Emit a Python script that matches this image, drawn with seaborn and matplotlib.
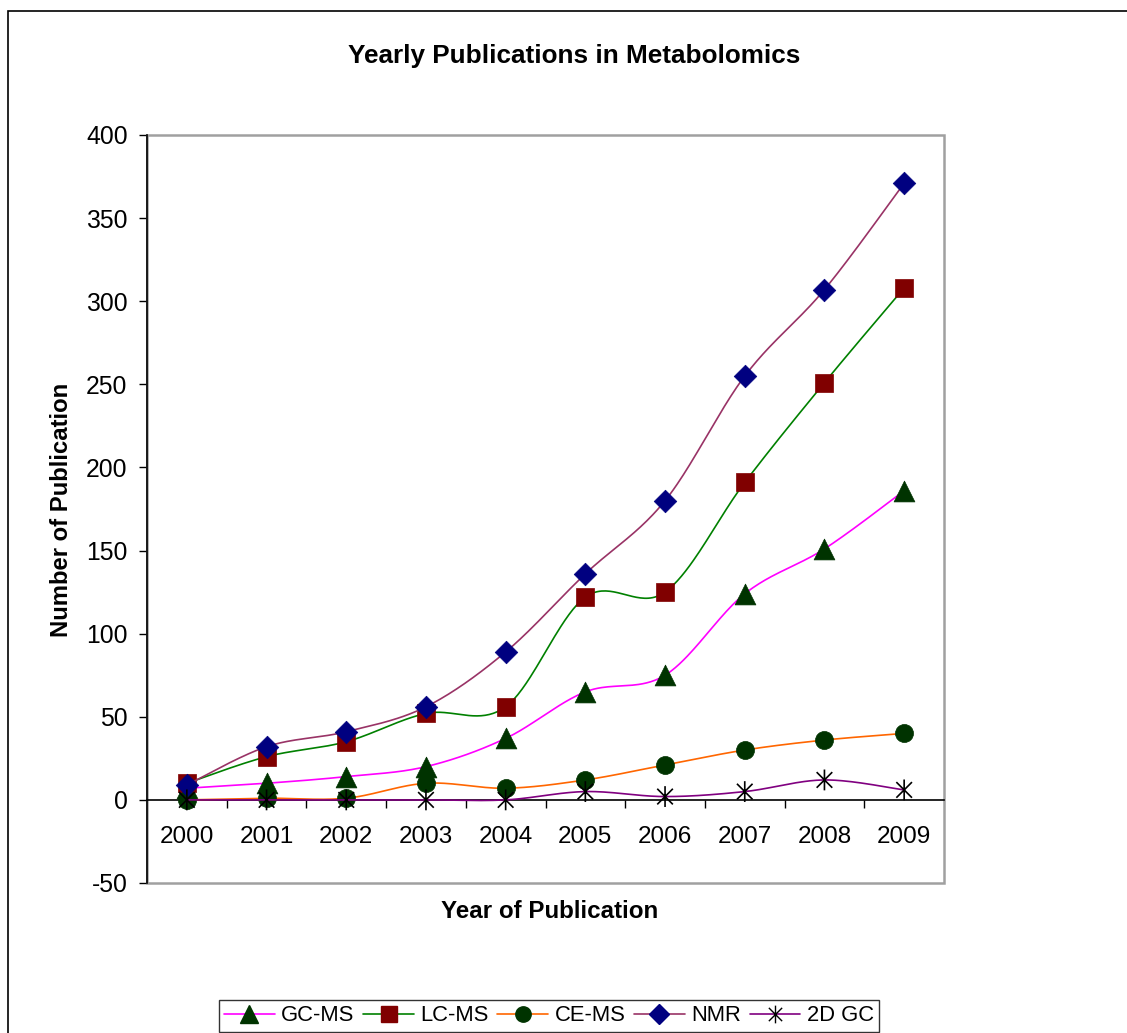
import numpy as np
import pandas as pd
import matplotlib
matplotlib.use("Agg")
import matplotlib.pyplot as plt
from matplotlib.lines import Line2D
from matplotlib.patches import Rectangle
from matplotlib.path import Path
import seaborn as sns

# Yearly publication counts per analytical platform
years = ["2000", "2001", "2002", "2003", "2004", "2005", "2006", "2007", "2008", "2009"]
gc_ms = [7, 10, 14, 20, 37, 65, 75, 124, 151, 186]
lc_ms = [10, 26, 35, 52, 56, 122, 125, 191, 251, 308]
ce_ms = [0, 1, 1, 10, 7, 12, 21, 30, 36, 40]
nmr = [9, 32, 41, 56, 89, 136, 180, 255, 307, 371]
gc2d = [0, 0, 0, 0, 0, 5, 2, 5, 12, 6]

series_names = ["GC-MS", "LC-MS", "CE-MS", "NMR", "2D GC"]
series_values = [gc_ms, lc_ms, ce_ms, nmr, gc2d]

# asterisk marker: vertical stroke plus a diagonal cross
star_path = Path(
    [(0, -1), (0, 1), (-0.75, -0.75), (0.75, 0.75), (-0.75, 0.75), (0.75, -0.75)],
    [Path.MOVETO, Path.LINETO, Path.MOVETO, Path.LINETO, Path.MOVETO, Path.LINETO],
)

styles = {
    "GC-MS": dict(line="#FF00FF", marker="^", mcolor="#003300", ms=15),
    "LC-MS": dict(line="#008000", marker="s", mcolor="#800000", ms=13),
    "CE-MS": dict(line="#FF6600", marker="o", mcolor="#003300", ms=13),
    "NMR": dict(line="#993366", marker="D", mcolor="#000080", ms=11.5),
    "2D GC": dict(line="#800080", marker=star_path, mcolor="#000000", ms=15),
}

rows = []
for name, vals in zip(series_names, series_values):
    for i, (yr, v) in enumerate(zip(years, vals)):
        rows.append({"series": name, "year": yr, "pos": i, "count": v})
df = pd.DataFrame(rows)


def smooth_curve(x, y, n=40):
    """Cubic Bezier smoothing through every point (Catmull-Rom style)."""
    pts = np.column_stack([x, y]).astype(float)
    padded = np.vstack([pts[0], pts, pts[-1]])
    out = []
    t = np.linspace(0, 1, n)[:, None]
    for i in range(len(pts) - 1):
        p0, p1, p2, p3 = padded[i], padded[i + 1], padded[i + 2], padded[i + 3]
        c1 = p1 + (p2 - p0) / 6.0
        c2 = p2 - (p3 - p1) / 6.0
        seg = ((1 - t) ** 3) * p1 + 3 * ((1 - t) ** 2) * t * c1 + 3 * (1 - t) * t ** 2 * c2 + t ** 3 * p2
        out.append(seg if i == 0 else seg[1:])
    out = np.vstack(out)
    return out[:, 0], out[:, 1]


sns.set_theme(style="white")
plt.rcParams["font.family"] = ["Liberation Sans", "DejaVu Sans"]
plt.rcParams["axes.unicode_minus"] = False
plt.rcParams["text.color"] = "black"
plt.rcParams["axes.labelcolor"] = "black"

W, H = 1127, 1033
fig = plt.figure(figsize=(W / 100, H / 100), dpi=100)
fig.patch.set_facecolor("white")
ax = fig.add_axes([147 / W, 1 - 883 / H, (944 - 147) / W, (883 - 135) / H])

handles = []
for k, name in enumerate(series_names):
    st = styles[name]
    sub = df[df["series"] == name]
    sx, sy = smooth_curve(sub["pos"].values, sub["count"].values)
    ax.plot(sx, sy, color=st["line"], lw=1.2, zorder=3 + 2 * k, solid_capstyle="round")
    if name == "2D GC":
        sns.scatterplot(data=sub, x="pos", y="count", ax=ax, marker=star_path,
                        s=st["ms"] ** 2, color="none", edgecolor=st["mcolor"],
                        linewidth=1.2, zorder=4 + 2 * k, legend=False)
    else:
        sns.scatterplot(data=sub, x="pos", y="count", ax=ax, marker=st["marker"],
                        s=st["ms"] ** 2, color=st["mcolor"], edgecolor=st["mcolor"],
                        linewidth=0.5, zorder=4 + 2 * k, legend=False)
    handles.append(Line2D([0], [0], color=st["line"], lw=1.2, marker=st["marker"],
                          markersize=st["ms"] * 0.85, markerfacecolor=st["mcolor"],
                          markeredgecolor=st["mcolor"], markeredgewidth=1.0))

ax.set_xlim(-0.5, len(years) - 0.5)
ax.set_ylim(-50, 400)
ax.set_yticks(np.arange(-50, 401, 50))
ax.set_xticks(range(len(years)))
ax.set_xticklabels(years)
ax.set_xticks(np.arange(0.5, len(years) - 0.5, 1), minor=True)
ax.tick_params(axis="x", which="major", length=0, pad=19, labelsize=17.5, colors="black")
ax.tick_params(axis="x", which="minor", length=6, width=1.0, direction="out",
               color="black", bottom=True)
ax.tick_params(axis="y", which="major", length=6, width=1.0, direction="out",
               pad=8, labelsize=17.8, colors="black", left=True)

for side in ["top", "right"]:
    ax.spines[side].set_visible(False)
ax.spines["bottom"].set_position(("data", 0))
ax.spines["bottom"].set_color("black")
ax.spines["bottom"].set_linewidth(1.2)
ax.spines["bottom"].set_zorder(2.5)
ax.spines["left"].set_color("black")
ax.spines["left"].set_linewidth(1.2)

# plot area frame
ax.add_patch(Rectangle((0, 0), 1, 1, transform=ax.transAxes, fill=False,
                       edgecolor="#A0A0A0", lw=1.8, zorder=1, clip_on=False))

ax.set_xlabel("")
ax.set_ylabel("")
fig.text(550 / W, 1 - 911 / H, "Year of Publication", ha="center", va="center",
         fontsize=17.4, fontweight="bold", color="black")
fig.text(62 / W, 1 - 510 / H, "Number of Publication", ha="center", va="center",
         rotation=90, fontsize=17.2, fontweight="bold", color="black")
fig.text(574 / W, 1 - 56 / H, "Yearly Publications in Metabolomics", ha="center",
         va="center", fontsize=18.8, fontweight="bold", color="black")

leg = fig.legend(handles, series_names, loc="upper center",
                 bbox_to_anchor=(549 / W, 1 - 1000 / H), ncol=5, frameon=True,
                 fancybox=False, fontsize=15.8, handlelength=2.3, handletextpad=0.3,
                 columnspacing=0.4, borderpad=0.25, borderaxespad=0, numpoints=1)
leg.get_frame().set_edgecolor("black")
leg.get_frame().set_linewidth(1.0)
for txt in leg.get_texts():
    txt.set_color("black")

# chart area border
fig.add_artist(Rectangle((8 / W, -0.2), 1.2, 1 - 11 / H + 0.2, transform=fig.transFigure,
                         fill=False, edgecolor="black", lw=1.2))

fig.savefig("out.png", dpi=100, facecolor="white")
